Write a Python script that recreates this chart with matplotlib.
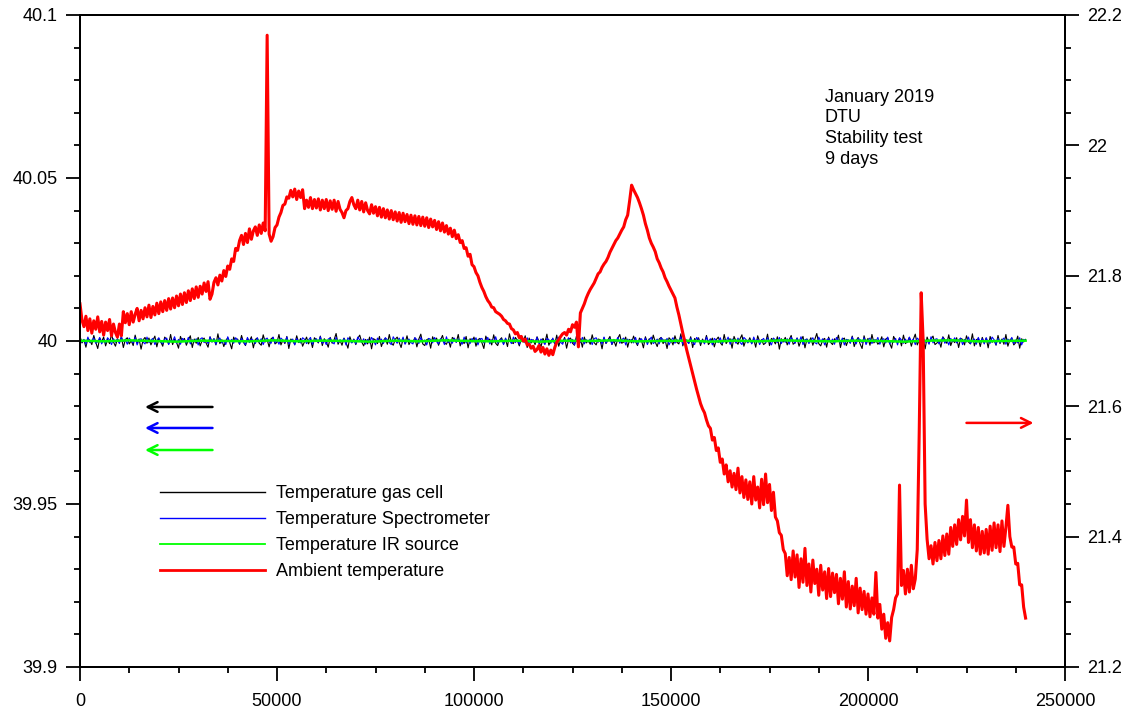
import numpy as np
import matplotlib
matplotlib.use("Agg")
import matplotlib.pyplot as plt
from matplotlib.ticker import MultipleLocator, FormatStrFormatter, FuncFormatter

plt.rcParams['font.family'] = ['Liberation Sans', 'DejaVu Sans']

# ---------------- data ----------------
# Ambient temperature (right axis, degC), sampled every 500 s from 0 to 240000 s
ambient_temp = [
    21.757, 21.732, 21.722, 21.738, 21.716, 21.734, 21.712, 21.731, 21.718, 21.737, 21.714, 21.730, 21.709, 21.729, 21.716, 21.733, 21.708, 21.726, 21.713, 21.706,
    21.726, 21.708, 21.745, 21.728, 21.742, 21.725, 21.745, 21.729, 21.741, 21.750, 21.731, 21.747, 21.734, 21.751, 21.737, 21.755, 21.736, 21.753, 21.740, 21.758,
    21.742, 21.760, 21.745, 21.762, 21.747, 21.765, 21.749, 21.766, 21.751, 21.769, 21.754, 21.772, 21.756, 21.774, 21.759, 21.777, 21.762, 21.780, 21.765, 21.783,
    21.767, 21.784, 21.772, 21.789, 21.776, 21.791, 21.764, 21.772, 21.790, 21.797, 21.786, 21.801, 21.792, 21.808, 21.799, 21.815, 21.810, 21.826, 21.822, 21.842,
    21.839, 21.854, 21.862, 21.848, 21.865, 21.851, 21.872, 21.856, 21.869, 21.875, 21.862, 21.878, 21.865, 21.881, 21.869, 22.169, 21.864, 21.853, 21.860, 21.874,
    21.878, 21.890, 21.897, 21.908, 21.910, 21.921, 21.919, 21.931, 21.921, 21.933, 21.917, 21.930, 21.920, 21.932, 21.903, 21.916, 21.905, 21.920, 21.903, 21.917,
    21.904, 21.918, 21.901, 21.916, 21.903, 21.917, 21.900, 21.915, 21.902, 21.916, 21.899, 21.914, 21.902, 21.897, 21.889, 21.900, 21.903, 21.914, 21.920, 21.909,
    21.903, 21.916, 21.901, 21.914, 21.898, 21.912, 21.900, 21.895, 21.909, 21.896, 21.906, 21.892, 21.905, 21.890, 21.903, 21.889, 21.901, 21.887, 21.900, 21.886,
    21.898, 21.884, 21.897, 21.882, 21.896, 21.883, 21.894, 21.880, 21.893, 21.879, 21.892, 21.878, 21.891, 21.877, 21.890, 21.876, 21.889, 21.874, 21.887, 21.875,
    21.885, 21.871, 21.883, 21.869, 21.881, 21.867, 21.877, 21.864, 21.873, 21.860, 21.870, 21.857, 21.863, 21.851, 21.854, 21.842, 21.843, 21.830, 21.833, 21.817,
    21.814, 21.805, 21.800, 21.790, 21.782, 21.776, 21.768, 21.762, 21.758, 21.752, 21.751, 21.745, 21.743, 21.741, 21.738, 21.733, 21.731, 21.727, 21.726, 21.719,
    21.717, 21.711, 21.713, 21.705, 21.707, 21.700, 21.703, 21.694, 21.695, 21.689, 21.692, 21.684, 21.687, 21.693, 21.683, 21.690, 21.680, 21.688, 21.678, 21.686,
    21.679, 21.690, 21.698, 21.702, 21.707, 21.711, 21.713, 21.709, 21.718, 21.714, 21.725, 21.721, 21.729, 21.691, 21.743, 21.750, 21.757, 21.766, 21.773, 21.779,
    21.784, 21.789, 21.796, 21.803, 21.806, 21.813, 21.818, 21.822, 21.828, 21.836, 21.842, 21.848, 21.854, 21.858, 21.864, 21.870, 21.875, 21.886, 21.893, 21.915,
    21.939, 21.932, 21.926, 21.920, 21.912, 21.903, 21.893, 21.880, 21.870, 21.858, 21.850, 21.844, 21.837, 21.826, 21.820, 21.812, 21.806, 21.797, 21.791, 21.784,
    21.778, 21.772, 21.766, 21.752, 21.740, 21.726, 21.712, 21.699, 21.686, 21.674, 21.662, 21.650, 21.638, 21.626, 21.615, 21.604, 21.596, 21.590, 21.579, 21.570,
    21.566, 21.548, 21.552, 21.532, 21.536, 21.514, 21.519, 21.496, 21.510, 21.484, 21.501, 21.476, 21.497, 21.472, 21.505, 21.467, 21.492, 21.460, 21.487, 21.457,
    21.484, 21.450, 21.492, 21.456, 21.476, 21.444, 21.488, 21.449, 21.496, 21.452, 21.480, 21.440, 21.468, 21.430, 21.424, 21.406, 21.402, 21.380, 21.374, 21.340,
    21.368, 21.334, 21.378, 21.338, 21.372, 21.322, 21.366, 21.330, 21.382, 21.325, 21.358, 21.315, 21.364, 21.328, 21.350, 21.310, 21.356, 21.318, 21.346, 21.305,
    21.351, 21.308, 21.344, 21.314, 21.342, 21.297, 21.336, 21.304, 21.346, 21.292, 21.331, 21.289, 21.324, 21.294, 21.336, 21.283, 21.321, 21.288, 21.316, 21.281,
    21.312, 21.277, 21.306, 21.281, 21.345, 21.275, 21.296, 21.258, 21.281, 21.244, 21.268, 21.240, 21.276, 21.288, 21.306, 21.312, 21.479, 21.325, 21.348, 21.312,
    21.350, 21.315, 21.356, 21.320, 21.335, 21.380, 21.560, 21.774, 21.700, 21.450, 21.396, 21.366, 21.386, 21.358, 21.391, 21.363, 21.394, 21.366, 21.401, 21.371,
    21.404, 21.373, 21.414, 21.385, 21.418, 21.388, 21.426, 21.395, 21.431, 21.401, 21.456, 21.391, 21.426, 21.383, 21.418, 21.378, 21.414, 21.373, 21.408, 21.375,
    21.411, 21.373, 21.416, 21.379, 21.421, 21.383, 21.418, 21.377, 21.424, 21.385, 21.414, 21.448, 21.400, 21.384, 21.384, 21.358, 21.359, 21.326, 21.326, 21.292,
    21.275]

# Deviations from 40 degC (mK), sampled every 500 s from 0 to 240000 s
gas_cell_mK = [
    1.4, -0.6, 0.3, -1.9, 0.8, 0.2, -1.1, 1.7, -0.4, -2.3, 0.9, -0.2, 1.2, -1.5, 0.5, -0.8, 2.1, -0.3, -1.6, 0.7,
    -0.5, 1.3, -2.0, 0.4, 1.0, -0.9, 0.1, -1.4, 1.8, -0.6, 0.6, -2.5, 0.3, 1.1, -0.7, 0.9, -1.2, 0.2, 1.5, -1.8,
    0.7, -0.3, -1.6, 1.2, 0.4, -0.9, 2.0, -1.1, 0.5, -0.4, -2.2, 1.4, -0.2, 0.8, -1.3, 0.3, 1.6, -2.0, 0.6, -0.7,
    1.1, -1.5, 0.2, 0.9, -0.6, -1.9, 1.3, -0.3, 0.7, -1.2, 2.2, -0.8, 0.4, -1.7, 0.1, 1.0, -0.5, -2.4, 1.2, -0.2,
    0.6, -1.0, 1.7, -0.4, -1.4, 0.8, -0.1, 1.3, -2.1, 0.5, 0.9, -0.7, -1.3, 1.9, -0.3, 0.4, -1.8, 0.7, 1.1, -0.9,
    -0.4, 2.0, -1.2, 0.3, -0.8, 1.4, -2.3, 0.6, 0.2, -1.1, 1.6, -0.5, 0.8, -1.6, -0.2, 1.2, -0.9, 0.5, -2.0, 1.0,
    0.3, -0.6, 1.5, -1.4, 0.7, -0.2, -1.9, 1.1, -0.7, 0.4, 2.3, -1.0, 0.2, -1.3, 0.9, -0.4, -2.2, 1.3, -0.5, 0.6,
    -1.1, 0.8, 1.8, -0.3, -1.5, 0.5, -0.9, 1.2, -2.4, 0.7, 0.3, -0.8, 1.4, -1.7, 0.1, 0.9, -1.0, 2.0, -0.6, -1.3,
    0.5, 1.2, -0.4, -2.0, 0.8, -0.7, 1.6, -1.1, 0.2, -0.3, 1.0, -1.8, 0.6, 2.1, -0.9, -1.4, 0.4, 0.7, -2.2, 1.3,
    -0.2, 0.9, -1.3, 0.3, 1.7, -0.6, -1.0, 0.5, -1.9, 1.1, 0.6, -0.4, 2.0, -1.5, 0.2, -0.8, 1.4, -2.1, 0.7, -0.3,
    1.2, -1.6, 0.4, 0.8, -0.5, -2.3, 1.5, -0.2, 0.6, -1.2, 1.9, -0.7, -1.4, 0.3, 1.0, -0.9, 0.5, -1.7, 2.2, -0.4,
    -0.8, 1.1, 0.2, -1.5, 0.7, -0.3, 1.6, -2.0, 0.9, -0.6, 0.4, -1.1, 1.3, -0.2, -1.8, 0.8, -0.5, 2.1, -1.3, 0.1,
    0.6, -0.9, 1.8, -1.6, 0.3, -0.4, 1.1, -2.2, 0.5, 0.9, -0.7, -1.3, 1.5, -0.1, 0.7, -1.9, 1.2, -0.6, 0.2, -1.0,
    1.9, -0.5, -1.2, 0.6, 0.4, -2.4, 1.0, -0.8, 0.3, 1.4, -1.1, 0.1, -1.6, 0.8, 2.0, -0.7, -0.3, 1.2, -1.9, 0.5,
    -0.6, 1.5, -0.2, -1.4, 0.9, 0.2, -2.1, 1.3, -0.5, 0.7, -1.0, 1.8, -0.3, -1.7, 0.6, 1.1, -0.8, 0.4, -2.3, 1.0,
    0.3, -1.2, 1.6, -0.4, -0.9, 2.2, -1.5, 0.5, 0.1, -0.7, 1.3, -2.0, 0.8, -0.2, 1.0, -1.4, 0.6, -0.6, 1.7, -1.1,
    -0.3, 0.9, -1.8, 0.4, 1.2, -0.5, -1.3, 2.0, -0.8, 0.2, 0.7, -2.2, 1.4, -0.1, -1.0, 0.6, 1.9, -1.6, 0.3, -0.4,
    1.0, -0.7, 0.5, -1.9, 1.6, -0.2, 0.4, -1.1, -0.6, 2.1, -1.4, 0.8, 0.2, -0.9, 1.3, -2.5, 0.7, -0.3, 1.1, -1.2,
    0.4, 1.7, -1.0, -0.5, 0.9, -1.6, 0.2, 1.4, -2.1, 0.6, -0.3, 1.0, -1.3, 0.5, 2.3, -0.8, -1.5, 0.3, 0.8, -1.9,
    1.2, -0.4, -1.1, 0.7, -0.2, 1.8, -2.0, 0.5, 0.9, -1.4, 0.3, -0.6, 1.5, -1.7, 0.1, 1.1, -0.9, -2.3, 1.6, -0.5,
    0.8, -1.3, 2.0, -0.6, 0.4, -1.0, -0.3, 1.3, -1.8, 0.6, 1.0, -0.7, -2.2, 1.4, 0.2, -0.5, 0.9, -1.5, 1.8, -0.8,
    -0.2, 1.1, -1.6, 0.5, 2.1, -1.2, 0.3, -0.9, 0.7, -2.4, 1.2, -0.4, 0.6, 1.5, -1.1, -0.6, 0.2, -1.9, 1.3, 0.4,
    -0.7, 1.9, -1.4, 0.3, -0.5, 1.0, -2.0, 0.8, 0.5, -1.2, 1.6, -0.3, -0.9, 2.2, -1.5, 0.4, 0.7, -1.7, 1.1, -0.6,
    0.9, -2.1, 1.4, -0.4, 0.2, -1.3, 1.7, -0.8, 0.6, -1.0, 2.0, -1.6, 0.3, 0.8, -1.2, -0.5, 1.5, -2.2, 0.7, -0.3,
    0.5]
spectrometer_mK = [
    0.8, -0.3, 0.5, -1.0, 1.2, -0.5, 0.2, 0.9, -0.7, -0.2, 1.1, -0.9, 0.4, -0.6, 1.0, 0.3, -1.1, 0.7, -0.4, 0.6,
    -0.8, 1.3, -0.2, 0.5, -1.0, 0.9, 0.1, -0.6, 1.1, -1.2, 0.4, 0.7, -0.3, -0.9, 1.2, -0.5, 0.3, 0.8, -1.1, 0.2,
    1.0, -0.4, -0.8, 0.6, 0.9, -1.1, 0.3, -0.2, 1.3, -0.7, 0.5, -1.0, 0.8, 0.2, -0.6, 1.1, -0.9, 0.4, -0.3, 0.7,
    -1.2, 0.6, 1.0, -0.5, 0.2, -0.8, 1.2, -0.3, 0.7, -1.0, 0.4, 0.9, -0.6, 0.1, -1.1, 1.3, -0.4, 0.5, -0.7, 1.0,
    0.3, -0.9, 0.8, -0.2, -1.2, 1.1, -0.5, 0.6, 0.2, -0.8, 1.0, -0.4, 0.7, -1.1, 0.5, 0.9, -0.3, -0.7, 1.2, -0.6,
    0.4, -1.0, 0.9, 0.3, -0.5, 1.2, -0.9, 0.1, 0.6, -1.2, 0.8, -0.2, -0.6, 1.0, 0.5, -0.8, 0.3, 1.1, -1.0, 0.2,
    0.7, -0.4, 1.3, -0.7, 0.2, -1.1, 0.6, 0.9, -0.3, -0.9, 1.1, -0.5, 0.4, -0.2, 0.8, -1.2, 1.0, 0.1, -0.6, 0.5,
    -0.9, 1.2, 0.3, -0.4, 0.7, -1.0, 0.5, -0.6, 1.1, 0.2, -1.2, 0.9, -0.3, 0.6, -0.8, 1.0, 0.4, -0.5, -1.1, 1.3,
    0.2, -0.7, 0.9, -0.3, 1.2, -1.0, 0.1, 0.6, -0.5, -0.9, 1.0, 0.4, -0.8, 1.1, -0.2, 0.3, -1.2, 0.8, 0.5, -0.6,
    1.1, -0.2, -0.9, 0.7, 0.4, -1.1, 1.3, -0.5, 0.2, -0.7, 0.9, -0.4, 0.6, 0.1, -1.0, 1.2, -0.6, 0.3, -0.8, 0.8,
    -0.3, 1.0, -1.2, 0.5, 0.8, -0.6, 0.2, 1.1, -0.9, 0.4, -0.4, 1.3, -0.7, 0.1, 0.6, -1.1, 0.9, -0.2, 0.3, -0.8,
    1.2, -0.5, 0.4, -1.0, 0.7, 0.3, -0.6, 1.0, -1.2, 0.5, 0.2, -0.3, 1.1, -0.9, 0.6, -0.1, -1.1, 0.8, 0.4, -0.7,
    0.9, -0.8, 0.3, 1.2, -0.4, -1.0, 0.7, -0.2, 1.0, -0.6, 0.5, -1.2, 0.8, 0.2, -0.5, 1.1, -0.9, 0.4, -0.3, 0.6,
    -1.1, 0.7, 1.0, -0.4, 0.3, -0.9, 1.2, -0.6, 0.1, 0.8, -1.0, 0.5, -0.2, 1.1, -0.7, 0.4, 0.9, -1.2, 0.6, -0.3,
    0.5, -0.6, 1.1, -1.0, 0.2, 0.7, -0.4, 0.9, -1.1, 0.3, 1.2, -0.8, -0.2, 0.6, -0.9, 1.0, 0.4, -0.5, 0.8, -1.2,
    0.1, 1.0, -0.7, 0.4, -0.3, 1.3, -1.0, 0.6, 0.2, -0.8, 0.9, -0.4, -1.1, 1.1, 0.5, -0.6, 0.3, -0.9, 1.2, -0.2,
    0.7, -1.2, 0.8, 0.2, -0.5, 1.0, -0.8, 0.4, -0.1, 1.2, -1.0, 0.6, 0.3, -0.7, 0.9, -0.4, -1.1, 1.1, 0.5, -0.6,
    0.4, -0.9, 1.2, -0.3, 0.6, -1.1, 0.2, 0.8, -0.6, 1.0, -0.2, -1.2, 0.9, 0.3, -0.5, 1.1, -0.8, 0.5, -0.4, 0.7,
    -1.0, 1.1, 0.2, -0.7, 0.9, -0.3, 1.3, -1.1, 0.4, 0.6, -0.8, 0.1, 1.0, -0.5, -0.9, 1.2, -0.2, 0.7, -1.2, 0.3,
    0.8, -0.4, 0.6, -1.0, 1.1, 0.2, -0.6, 0.9, -1.2, 0.5, 0.3, -0.7, 1.2, -0.1, -0.9, 0.8, 0.4, -0.5, 1.0, -1.1,
    0.2, 0.9, -0.8, 0.5, -0.3, 1.1, -1.0, 0.4, 0.7, -0.6, 1.2, -0.9, 0.1, -0.4, 0.8, -1.2, 1.0, 0.3, -0.7, 0.6,
    -0.5, 1.2, -0.2, 0.6, -1.1, 0.9, 0.3, -0.8, 1.0, -0.4, 0.2, -1.0, 1.3, -0.6, 0.5, 0.7, -0.9, 0.1, 1.1, -0.7,
    0.4, -1.2, 0.8, -0.2, 1.0, -0.6, 0.3, 0.9, -1.1, 0.5, -0.3, 1.2, -0.8, 0.2, 0.6, -1.0, 1.1, -0.4, 0.7, -0.9,
    1.0, -0.3, -0.7, 1.2, 0.4, -1.1, 0.8, -0.5, 0.2, 0.9, -1.0, 0.6, -0.2, 1.1, -0.8, 0.3, -0.6, 1.0, -1.2, 0.5,
    0.2]
ir_source_mK = [0.1, -0.1, 0.2, 0.0, -0.2, 0.1, 0.0, -0.1, 0.2, -0.1, 0.1, 0.0, -0.2, 0.1, -0.1, 0.2, 0.0, -0.1, 0.1, -0.2,
                0.1, 0.0, 0.2, -0.1, 0.0, 0.1, -0.2, 0.1, -0.1, 0.2, 0.0, -0.1, 0.1, 0.0, -0.2, 0.1, 0.2, -0.1, 0.0, 0.1]

legend_labels = ["Temperature gas cell", "Temperature Spectrometer",
                 "Temperature IR source", "Ambient temperature"]
info_text = "January 2019\nDTU\nStability test\n9 days"

# ---------------- figure ----------------
fig = plt.figure(figsize=(11.32, 7.13), dpi=100)
ax1 = fig.add_axes([80/1132, 46/713, 985/1132, 652/713])
ax2 = ax1.twinx()

t_end = 240000
t_black = np.linspace(0, t_end, len(gas_cell_mK))
t_blue = np.linspace(0, t_end, len(spectrometer_mK))
t_green = np.linspace(0, t_end, len(ir_source_mK))
t_red = np.linspace(0, t_end, len(ambient_temp))

l1, = ax1.plot(t_black, 40 + np.array(gas_cell_mK) / 1000, color='black', lw=0.8)
l2, = ax1.plot(t_blue, 40 + np.array(spectrometer_mK) / 1000, color='#0000ff', lw=0.8)
l3, = ax1.plot(t_green, 40 + np.array(ir_source_mK) / 1000, color='#00ff00', lw=1.8)
l4, = ax2.plot(t_red, ambient_temp, color='#ff0000', lw=2.2)

ax1.set_xlim(0, 250000)
ax1.set_ylim(39.9, 40.1)
ax2.set_ylim(21.2, 22.2)

ax1.xaxis.set_major_locator(MultipleLocator(50000))
ax1.xaxis.set_minor_locator(MultipleLocator(12500))
ax1.xaxis.set_major_formatter(FormatStrFormatter('%d'))
ax1.yaxis.set_major_locator(MultipleLocator(0.05))
ax1.yaxis.set_minor_locator(MultipleLocator(0.01))
ax1.yaxis.set_major_formatter(FuncFormatter(lambda v, p: ('%.2f' % v).rstrip('0').rstrip('.')))
ax2.yaxis.set_major_locator(MultipleLocator(0.2))
ax2.yaxis.set_minor_locator(MultipleLocator(0.05))
ax2.yaxis.set_major_formatter(FuncFormatter(lambda v, p: ('%.1f' % v).rstrip('0').rstrip('.')))

for ax in (ax1, ax2):
    ax.tick_params(which='major', direction='out', length=10, width=1.3, labelsize=13, pad=6, colors='black')
    ax.tick_params(which='minor', direction='out', length=4.5, width=1.3)
    for s in ax.spines.values():
        s.set_linewidth(1.4)
ax1.tick_params(axis='x', which='major', pad=9)

# direction arrows
arrow_specs = [((0.1345, 0.3988), (0.0660, 0.3988), 'black'),
               ((0.1345, 0.3666), (0.0660, 0.3666), '#0000ff'),
               ((0.1345, 0.3328), (0.0660, 0.3328), '#00ff00'),
               ((0.9000, 0.3744), (0.9680, 0.3744), '#ff0000')]
for start, end, c in arrow_specs:
    ax2.annotate('', xy=end, xytext=start, xycoords='axes fraction', textcoords='axes fraction',
                 arrowprops=dict(arrowstyle='->,head_length=0.7,head_width=0.35', color=c, lw=1.8,
                                 shrinkA=0, shrinkB=0))

ax2.text(0.756, 0.887, info_text, transform=ax2.transAxes, ha='left', va='top',
         fontsize=13, linespacing=1.28)

leg = ax2.legend([l1, l2, l3, l4], legend_labels, loc='upper left',
                 bbox_to_anchor=(0.0812, 0.2794), frameon=False, fontsize=13,
                 handlelength=5.8, handletextpad=0.65, labelspacing=0.5,
                 borderpad=0, borderaxespad=0)
for h, w in zip(leg.get_lines(), [1.0, 1.0, 1.3, 2.0]):
    h.set_linewidth(w)

fig.savefig('out.png', dpi=100)
